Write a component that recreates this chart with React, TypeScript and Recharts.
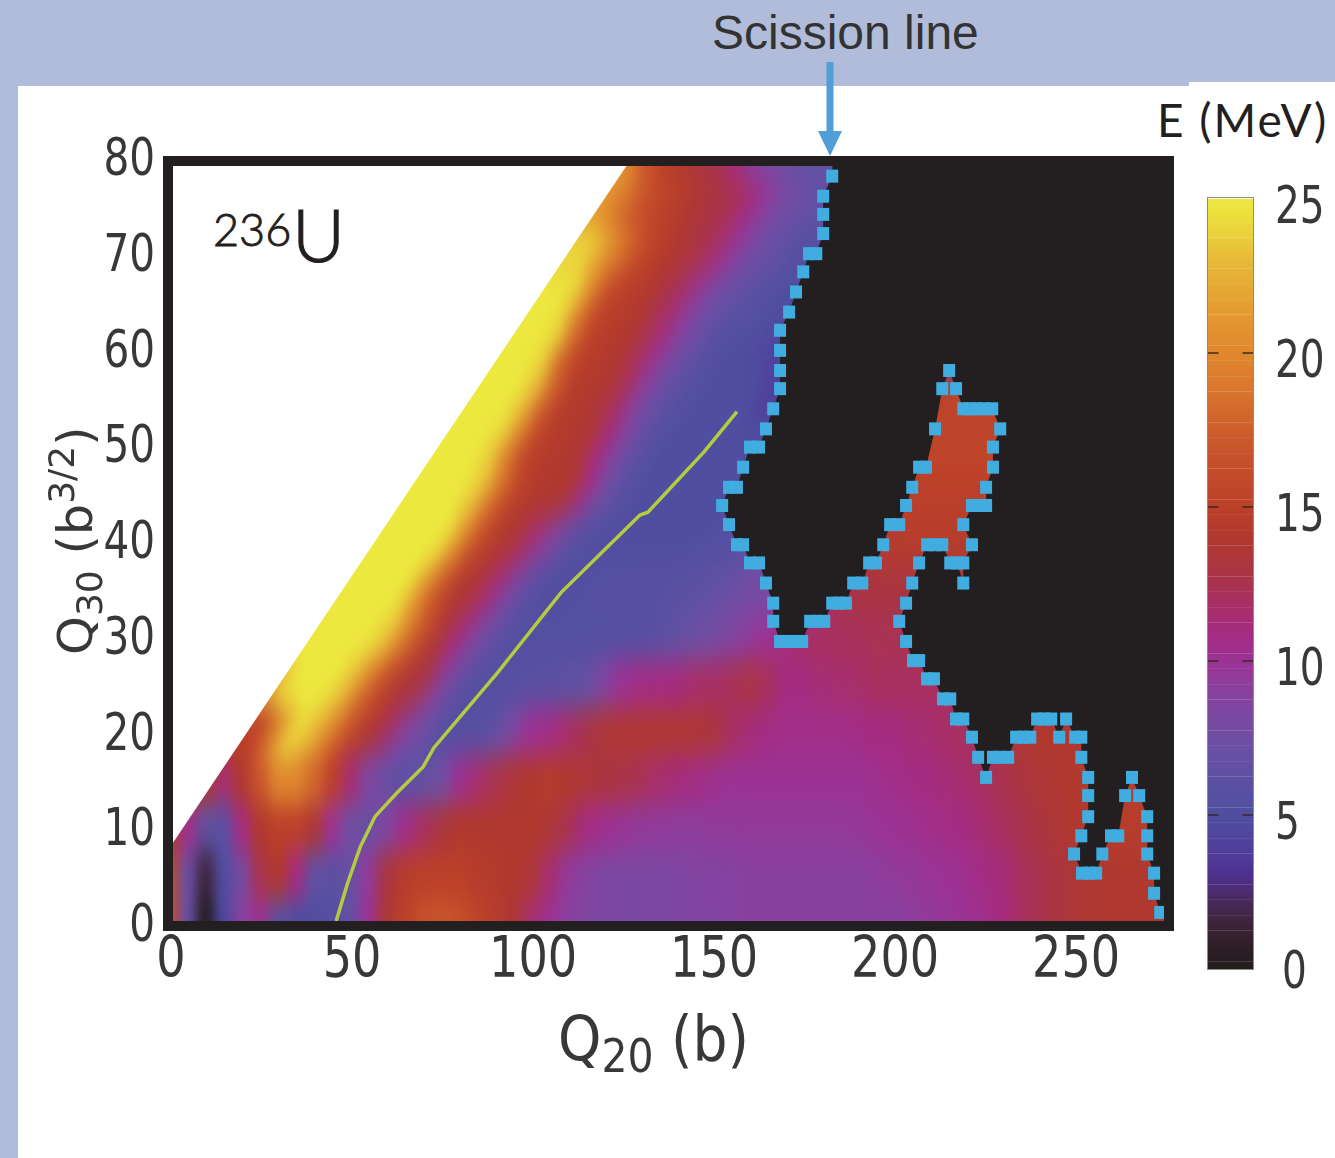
import { ScatterChart, Scatter, XAxis, YAxis } from "recharts";

// Q20 (b) columns of the energy table, one value per 5 b
const q20Levels = [
  0, 5, 10, 15, 20, 25, 30, 35, 40, 45, 50, 55, 60, 65, 70, 75, 80, 85, 90, 95,
  100, 105, 110, 115, 120, 125, 130, 135, 140, 145, 150, 155, 160, 165, 170, 175, 180, 185, 190, 195,
  200, 205, 210, 215, 220, 225, 230, 235, 240, 245, 250, 255, 260, 265, 270, 275,
];

// energy (MeV), row by row
const e0 = [16, 7, 0, 4.5, 9, 10, 6, 5, 5, 5.5, 6.5, 10, 13.5, 15, 16.5, 17, 16.5, 15.5, 14.5, 13.5,
  11.5, 10, 9, 8.5, 8.3, 8.2, 8.2, 8.3, 8.4, 8.5, 8.6, 8.8, 9, 9, 9, 9, 9, 9, 9, 9,
  9, 9.2, 9.5, 9.7, 10, 10.5, 11, 12, 12.5, 13, 13.5, 13.8, 14, 14, 14, 14];
const e5 = [16, 7, 1.5, 5, 8, 12.5, 14, 11, 6.5, 6, 7, 9.5, 13, 14.5, 15, 15, 15, 14.5, 14.3, 14,
  13.5, 11.5, 9.5, 8.8, 8.3, 8.2, 8.2, 8.3, 8.4, 8.5, 8.7, 8.8, 9, 9, 9, 9, 9, 9, 9, 9.2,
  9.4, 9.6, 9.8, 10, 10.3, 10.8, 11.2, 12, 12.5, 13, 13.5, 13.8, 14, 14, 14, 14];
const e10 = [14, 10.5, 6.5, 6, 11, 14, 15, 15, 13.5, 10, 7.5, 7, 8.5, 10.5, 12, 13, 14, 14, 14, 14,
  14, 13.5, 12.5, 11, 10.3, 9.8, 9.5, 9.4, 9.3, 9.3, 9.4, 9.4, 9.5, 9.5, 9.5, 9.5, 9.5, 9.5, 9.6, 9.8,
  10, 10.2, 10.5, 10.7, 11, 11.5, 12, 12.5, 13, 13.5, 14, 14.3, 14.5, 14.5, 14.5, 14.5];
const e15 = [14, 14, 14, 11.5, 14, 17, 20, 20, 18, 15, 11.5, 8.5, 7, 6, 6.5, 7.5, 10, 11.5, 12.5, 13.5,
  14, 14.5, 14, 13.5, 13, 12.8, 12.3, 11.7, 11.2, 10.8, 10.3, 10, 10, 10, 10, 10, 10, 10, 10, 10.3,
  10.5, 10.8, 11, 11.3, 11.6, 12, 12.5, 13, 13.5, 13.8, 14, 14.3, 14.5, 14.5, 14.5, 14.5];
const e20 = [16, 16, 16, 15, 15, 15, 20, 24.5, 23, 19.5, 16, 14, 12, 9, 7.5, 5.7, 5.5, 5.7, 6.3, 8,
  10, 10.7, 11.7, 12.6, 13.5, 13.6, 13.7, 13.7, 13.7, 13.6, 13.2, 12, 11.3, 10.8, 10.5, 10.5, 10.5, 10.5, 10.7, 11,
  11, 11.3, 11.5, 11.8, 12, 12.5, 13, 13.5, 14, 14, 14, 14, 14, 14, 14, 14];
const e25 = [18, 18, 18, 18, 18, 18, 23, 25, 25, 25, 23, 18.5, 15.5, 13.5, 12.7, 9, 6.5, 5.5, 5.5, 5.6,
  5.8, 6, 6.3, 6.7, 8.5, 10, 10.7, 10.9, 11, 11.7, 11.8, 12.2, 12.8, 12.2, 11, 11, 11.3, 11.5, 11.7, 12,
  12, 12, 12, 12, 12, 12, 12, 12, 12, 12, 12, 12, 12, 12, 12, 12];
const e30 = [25, 25, 25, 25, 25, 25, 25, 25, 25, 25, 25, 25, 23.5, 19.5, 16, 13.5, 11, 8.5, 6.5, 5.5,
  5.3, 5.3, 5.3, 5.3, 5.4, 5.5, 5.5, 6, 6.5, 7.2, 7.7, 8.5, 9.2, 10, 10.5, 11.5, 12, 12, 12.2, 12.3,
  12.5, 12.5, 12.5, 12.5, 12.5, 12.5, 12.5, 12.5, 12.5, 12.5, 12.5, 12.5, 12.5, 12.5, 12.5, 12.5];
const e35 = [25, 25, 25, 25, 25, 25, 25, 25, 25, 25, 25, 25, 25, 25, 21, 17, 14, 13.3, 11, 8.3,
  6, 5.2, 5.2, 5.3, 5.4, 5.5, 5.6, 5.7, 5.8, 6, 6.5, 7, 7.7, 8, 8, 9, 10, 12, 13, 13,
  13, 13, 13, 13, 13, 13, 13, 13, 13, 13, 13, 13, 13, 13, 13, 13];
const e40 = [25, 25, 25, 25, 25, 25, 25, 25, 25, 25, 25, 25, 25, 25, 25, 25, 21, 16.5, 14.4, 13.5,
  11.5, 9, 6.5, 5.4, 5.2, 5.2, 5.2, 5.2, 5.2, 5.2, 5.3, 5.5, 6, 6.5, 7, 8, 9, 10.5, 12, 13.5,
  14.5, 14.5, 14.5, 14.5, 14.5, 14.5, 14.5, 14.5, 14.5, 14.5, 14.5, 14.5, 14.5, 14.5, 14.5, 14.5];
const e45 = [25, 25, 25, 25, 25, 25, 25, 25, 25, 25, 25, 25, 25, 25, 25, 25, 25, 23.5, 19, 15.5,
  14.3, 14, 13.7, 10.5, 7.5, 5.8, 5.2, 5, 5, 5, 5, 5, 5, 5, 6, 7, 8, 9, 10, 12,
  14, 15, 15, 15, 15, 15, 15, 15, 15, 15, 15, 15, 15, 15, 15, 15];
const e50 = [25, 25, 25, 25, 25, 25, 25, 25, 25, 25, 25, 25, 25, 25, 25, 25, 25, 25, 24, 19.5,
  15.5, 14.5, 14.1, 13.5, 11, 8.5, 6.3, 5.3, 5, 5, 5, 5, 5, 4.5, 5, 6, 7, 8, 9, 11,
  13, 14, 15.5, 15.5, 15.5, 15.5, 15.5, 15.5, 15.5, 15.5, 15.5, 15.5, 15.5, 15.5, 15.5, 15.5];
const e55 = [25, 25, 25, 25, 25, 25, 25, 25, 25, 25, 25, 25, 25, 25, 25, 25, 25, 25, 25, 25,
  23, 17.5, 14.5, 14.2, 13.5, 12, 9, 7, 5.8, 5.3, 5, 5, 5, 4, 4, 4, 4, 4.5, 4.5, 6,
  9, 12, 14, 15.5, 15.5, 15.5, 15.5, 15.5, 15.5, 15.5, 15.5, 15.5, 15.5, 15.5, 15.5, 15.5];
const e60 = [25, 25, 25, 25, 25, 25, 25, 25, 25, 25, 25, 25, 25, 25, 25, 25, 25, 25, 25, 25,
  25, 24, 18, 15, 14.4, 14, 12.5, 10.5, 8.3, 6.8, 5.5, 5.2, 5, 4.5, 4, 4, 4, 4, 4, 4,
  4, 4, 4, 4, 4, 4, 4, 4, 4, 4, 4, 4, 4, 4, 4, 4];
const e65 = [25, 25, 25, 25, 25, 25, 25, 25, 25, 25, 25, 25, 25, 25, 25, 25, 25, 25, 25, 25,
  25, 25, 24.5, 20, 15.7, 14.8, 14.3, 13, 11.7, 9.5, 7.5, 6.6, 6, 5.4, 5, 5, 5, 5, 5, 5,
  5, 5, 5, 5, 5, 5, 5, 5, 5, 5, 5, 5, 5, 5, 5, 5];
const e70 = [24, 24, 24, 24, 24, 24, 24, 24, 24, 24, 24, 24, 24, 24, 24, 24, 24, 24, 24, 24,
  24, 24, 24, 24, 21.5, 18.5, 16, 14.8, 13.8, 12.9, 11.7, 9.7, 8, 7, 6.2, 5.5, 5.5, 5.5, 5.5, 5.5,
  5.5, 5.5, 5.5, 5.5, 5.5, 5.5, 5.5, 5.5, 5.5, 5.5, 5.5, 5.5, 5.5, 5.5, 5.5, 5.5];
const e75 = [22, 22, 22, 22, 22, 22, 22, 22, 22, 22, 22, 22, 22, 22, 22, 22, 22, 22, 22, 22,
  22, 22, 22, 22, 21, 18.8, 16.8, 15.5, 14.7, 13.7, 12.9, 12.6, 11, 9.2, 7.8, 7, 6.5, 6.5, 6.5, 6.5,
  6.5, 6.5, 6.5, 6.5, 6.5, 6.5, 6.5, 6.5, 6.5, 6.5, 6.5, 6.5, 6.5, 6.5, 6.5, 6.5];
const e80 = [22, 22, 22, 22, 22, 22, 22, 22, 22, 22, 22, 22, 22, 22, 22, 22, 22, 22, 22, 22,
  22, 22, 22, 22, 22, 22, 20, 17, 15, 14.2, 13, 12.5, 11, 9, 8, 7, 6.5, 6.5, 6.5, 6.5,
  6.5, 6.5, 6.5, 6.5, 6.5, 6.5, 6.5, 6.5, 6.5, 6.5, 6.5, 6.5, 6.5, 6.5, 6.5, 6.5];

const q30Levels = [0, 5, 10, 15, 20, 25, 30, 35, 40, 45, 50, 55, 60, 65, 70, 75, 80];
const energyRows = [e0, e5, e10, e15, e20, e25, e30, e35, e40, e45, e50, e55, e60, e65, e70, e75, e80];

// [Q20, Q30] of the blue scission squares, in order along the line
const scissionPoints = [
  [182.9, 77.9], [180.4, 75.8], [180.4, 73.9], [180.4, 71.9], [178.5, 69.8], [176.5, 69.8], [174.9, 67.9], [172.9, 65.8],
  [171, 63.7], [168.5, 61.8], [168.5, 59.7], [168.5, 57.6], [168.5, 55.7], [166.6, 53.6], [164.6, 51.5], [162.7, 49.6],
  [160.2, 49.6], [158.3, 47.5], [156.6, 45.4], [154.4, 45.4], [152.5, 43.5], [154.4, 41.5], [156.6, 39.4], [158.3, 39.4],
  [160.2, 37.5], [162.7, 37.5], [164.6, 35.4], [166.6, 33.3], [166.6, 31.4], [168.5, 29.3], [170.4, 29.3], [172.4, 29.3],
  [174.6, 29.3], [176.8, 31.4], [178.7, 31.4], [180.7, 31.4], [182.9, 33.3], [184.8, 33.3], [186.7, 33.3], [188.7, 35.4],
  [191.2, 35.4], [193.1, 37.5], [195, 37.5], [197, 39.4], [198.9, 41.5], [201.4, 41.5], [203.3, 43.5], [205, 45.4],
  [206.9, 47.5], [208.8, 47.5], [211.3, 51.5], [213.3, 55.7], [215.2, 57.6], [217.1, 55.7], [219.1, 53.6], [221, 53.6],
  [222.9, 53.6], [224.9, 53.6], [227.1, 53.6], [229.3, 51.5], [227.3, 49.6], [227.3, 47.5], [225.4, 45.4], [225.4, 43.5],
  [223.5, 43.5], [221.5, 43.5], [219.1, 41.5], [221.5, 39.4], [219.1, 37.5], [219.1, 35.4], [217.4, 37.5], [215.5, 37.5],
  [213.3, 39.4], [211.3, 39.4], [209.1, 39.4], [206.9, 37.5], [205, 35.4], [203.3, 33.3], [201.4, 31.4], [203.3, 29.3],
  [205.2, 27.3], [206.9, 27.3], [209.1, 25.4], [211, 25.4], [213.5, 23.3], [215.5, 23.3], [217.1, 21.2], [219.1, 21.2],
  [221.5, 19.3], [223.2, 17.2], [225.4, 15.1], [227.3, 17.2], [229.3, 17.2], [231.5, 17.2], [233.7, 19.3], [235.6, 19.3],
  [237.6, 19.3], [239.5, 21.2], [241.4, 21.2], [243.4, 21.2], [245.6, 19.3], [247.5, 21.2], [250, 19.3], [251.7, 19.3],
  [251.7, 17.2], [253.6, 15.1], [253.6, 13.2], [253.6, 11], [251.7, 9], [249.7, 7.1], [251.9, 5.1], [253.9, 5.1],
  [255.8, 5.1], [257.5, 7.1], [259.9, 9], [261.9, 9], [263.8, 13.2], [265.7, 15.1], [267.7, 13.2], [269.9, 11],
  [269.9, 9], [269.9, 7.1], [271.8, 5.1], [271.8, 3], [273.5, 1],
];

// closes the scission line round the black no-data corner
const blackCorner = [[275, 0], [277.3, 0], [277.3, 80], [183, 80]];
// the area left of the diagonal that has no data
const whiteCorner = [[0, 7.8], [127.9, 80], [0, 80]];

const pathQ20 = [45.9, 49, 52.5, 56.6, 62.7, 69.9, 72.9, 90.6, 108, 129.8, 132, 147.5, 156.6];
const pathQ30 = [0.1, 4, 7.8, 11, 13.5, 16.2, 18.2, 26.1, 34.4, 42.5, 42.8, 49.1, 53.3];

const xTicks = [0, 50, 100, 150, 200, 250];
const yTicks = [0, 10, 20, 30, 40, 50, 60, 70, 80];
const barTicks = [0, 5, 10, 15, 20, 25];
const barMarks = [5, 10, 15, 20];
const barLevels = [
  0, 0.5, 1, 1.5, 2, 2.5, 3, 3.5, 4, 4.5, 5, 5.5, 6, 6.5, 7, 7.5, 8, 8.5, 9, 9.5, 10, 10.5, 11, 11.5, 12, 12.5,
  13, 13.5, 14, 14.5, 15, 15.5, 16, 16.5, 17, 17.5, 18, 18.5, 19, 19.5, 20, 20.5, 21, 21.5, 22, 22.5, 23, 23.5, 24, 24.5, 25,
];

// colour map sampled from the colour bar
const colorStops: [number, string][] = [
  [0, "#231c1f"], [1, "#33202a"], [2, "#47284f"], [3, "#4f2f90"], [4, "#50409c"], [5, "#4f4ea0"], [6, "#5b50a3"],
  [7.5, "#6f4fa3"], [9, "#88409f"], [10, "#9c3294"], [11, "#a52b80"], [12, "#a83060"], [13, "#aa3540"], [14, "#b0382e"],
  [15, "#bc4029"], [17, "#c9552b"], [19, "#db7a2e"], [21, "#e3942f"], [23, "#e8b838"], [24, "#ebd53b"], [25, "#ece83f"],
];

function hexToRgb(hex: string) {
  return [1, 3, 5].map((i) => parseInt(hex.slice(i, i + 2), 16));
}

function energyColor(value: number) {
  const e = Math.max(0, value);
  for (let i = 1; i < colorStops.length; i++) {
    const [e0, c0] = colorStops[i - 1];
    const [e1, c1] = colorStops[i];
    if (e <= e1) {
      const t = (e - e0) / (e1 - e0);
      const a = hexToRgb(c0);
      const b = hexToRgb(c1);
      return `rgb(${a.map((v, k) => Math.round(v + (b[k] - v) * t)).join(",")})`;
    }
  }
  return colorStops[colorStops.length - 1][1];
}

const heatCells = q30Levels.flatMap((q30, r) => q20Levels.map((q20, c) => ({ q20, q30, e: energyRows[r][c] })));
const toPoints = (list: number[][]) => list.map(([q20, q30]) => ({ q20, q30 }));
const scissionData = toPoints(scissionPoints);
const blackData = toPoints([...scissionPoints, ...blackCorner]);
const whiteData = toPoints(whiteCorner);
const pathData = pathQ20.map((q20, i) => ({ q20, q30: pathQ30[i] }));
const barData = barLevels.map((e) => ({ x: 0.5, e }));
const barMarkData = barMarks.map((e) => ({ x: 0.5, e }));

const W = 1335;
const H = 1158;
const X_MAX = 277.3;
const INK = "#231f20";
const LABEL = "#383838";
const BAND = "#b0bcd9";
const SQUARE = "#41acdf";
const DIGITS = "'DejaVu Sans'";
const SOFT = { filter: "blur(0.5px)" };

// cells lean along the diagonal valley so the rows do not show as steps
function HeatCell({ cx, cy, payload }: any) {
  const { q20, q30, e } = payload;
  const lean = q30 >= 30 || (q30 >= 20 && q20 <= 100) ? 16 : 0;
  // where leaning and upright rows meet, a plain cell closes the gap
  const seam = q30 >= 20 && q30 < 30 && q20 >= 95 && q20 <= 110;
  let left = cx - 10;
  let right = cx + 10;
  let top = cy - 25;
  let bottom = cy + 25;
  if (q20 === 0) left -= 100;
  if (q20 === 275) right += 100;
  if (q30 === 0) bottom += 100;
  if (q30 === 80) top -= 100;
  const fill = energyColor(e);
  const pts = [
    [left + lean, top],
    [right + lean, top],
    [right - lean, bottom],
    [left - lean, bottom],
  ];
  return (
    <g>
      {seam && <rect x={left} y={top} width={right - left} height={bottom - top} fill={fill} />}
      <polygon points={pts.map((p) => p.join(",")).join(" ")} fill={fill} />
    </g>
  );
}

function SquareMark({ cx, cy }: any) {
  return <rect x={cx - 6} y={cy - 6.5} width={12} height={13} fill={SQUARE} />;
}

function BarCell({ cx, cy, payload }: any) {
  const id = `bar-${String(payload.e).replace(".", "-")}`;
  const top = payload.e === 25 ? cy : cy - 7.7;
  const bottom = payload.e === 0 ? cy : cy + 7.9;
  return (
    <g>
      <defs>
        <linearGradient id={id} x1="0" y1="0" x2="0" y2="1">
          <stop offset="0" stopColor={energyColor(payload.e + 0.25)} />
          <stop offset="1" stopColor={energyColor(payload.e - 0.25)} />
        </linearGradient>
      </defs>
      <rect x={cx - 22.5} y={top} width={45} height={bottom - top} fill={`url(#${id})`} />
    </g>
  );
}

function BarMark({ cx, cy }: any) {
  return (
    <g stroke="#3a2a20" strokeWidth={1.5}>
      <line x1={cx - 22.5} x2={cx - 12} y1={cy} y2={cy} />
      <line x1={cx + 12} x2={cx + 22.5} y1={cy} y2={cy} />
    </g>
  );
}

const NoMark = () => <g />;

const filledShape = (fill: string) => (props: any) => {
  const d = props.points.map((p: any, i: number) => `${i ? "L" : "M"}${p.x},${p.y}`).join("") + "Z";
  return <path d={d} fill={fill} stroke="none" />;
};

function LeftTick({ y, payload }: any) {
  return (
    <text transform={`translate(155,${y + 19}) scale(0.78,1)`} textAnchor="end" fontFamily={DIGITS} fontSize={52} fill={LABEL} style={SOFT}>
      {payload.value}
    </text>
  );
}

function BottomTick({ x, payload }: any) {
  return (
    <text transform={`translate(${x + 1},977) scale(0.81,1)`} textAnchor="middle" fontFamily={DIGITS} fontSize={57} fill={LABEL} style={SOFT}>
      {payload.value}
    </text>
  );
}

function BarTick({ y, payload }: any) {
  const zero = payload.value === 0;
  return (
    <text
      transform={`translate(${zero ? 1282 - 1200 : 1275 - 1200},${y + (zero ? 19 : 24)}) scale(0.75,1)`}
      fontFamily={DIGITS}
      fontSize={52}
      fill={LABEL}
      style={SOFT}
    >
      {payload.value}
    </text>
  );
}

export default function App() {
  return (
    <div style={{ position: "absolute", left: 0, top: 0, width: W, height: H, background: BAND, overflow: "hidden" }}>
      <div style={{ position: "absolute", left: 18, top: 86, width: W - 18, height: H - 86, background: "#fff" }} />
      <div style={{ position: "absolute", left: 1189, top: 82, width: W - 1189, height: 6, background: "#fff" }} />

      <svg width={0} height={0} style={{ position: "absolute" }}>
        <filter id="heatBlur" x="0" y="0" width="100%" height="100%" colorInterpolationFilters="sRGB">
          <feGaussianBlur stdDeviation="6 14" />
        </filter>
      </svg>

      {/* energy surface, blurred and cut to the inside of the frame */}
      <div style={{ position: "absolute", left: 173, top: 166, width: 1001, height: 755, overflow: "hidden" }}>
        <div style={{ position: "absolute", left: -173, top: -166, filter: "url(#heatBlur)" }}>
          <ScatterChart width={W} height={H} margin={{ left: 170, right: 161, top: 156, bottom: 236 }}>
            <XAxis type="number" dataKey="q20" domain={[0, X_MAX]} hide />
            <YAxis type="number" dataKey="q30" domain={[0, 80]} hide />
            <Scatter data={heatCells} shape={<HeatCell />} isAnimationActive={false} />
          </ScatterChart>
        </div>
      </div>

      <div style={{ position: "absolute", left: 0, top: 0 }}>
        <ScatterChart width={W} height={H} margin={{ left: 70, right: 161, top: 156, bottom: 146 }}>
          <XAxis
            type="number"
            dataKey="q20"
            domain={[0, X_MAX]}
            ticks={xTicks}
            tick={<BottomTick />}
            tickLine={false}
            axisLine={false}
            height={90}
            interval={0}
          />
          <YAxis
            type="number"
            dataKey="q30"
            domain={[0, 80]}
            ticks={yTicks}
            tick={<LeftTick />}
            tickLine={false}
            axisLine={false}
            width={100}
            interval={0}
          />
          <Scatter data={whiteData} shape={<NoMark />} line={filledShape("#fff")} isAnimationActive={false} />
          <Scatter data={blackData} shape={<NoMark />} line={filledShape(INK)} isAnimationActive={false} />
          <Scatter
            data={pathData}
            shape={<NoMark />}
            line={{ stroke: "#b4cc40", strokeWidth: 3.5 }}
            lineJointType="linear"
            isAnimationActive={false}
          />
          <Scatter data={scissionData} shape={<SquareMark />} isAnimationActive={false} />
        </ScatterChart>
      </div>

      <div style={{ position: "absolute", left: 163, top: 156, width: 991, height: 755, border: `10px solid ${INK}` }} />

      {/* colour bar */}
      <div style={{ position: "absolute", left: 1200, top: 150 }}>
        <ScatterChart width={135} height={870} margin={{ left: 8, right: 0, top: 49, bottom: 51 }}>
          <XAxis type="number" dataKey="x" domain={[0, 1]} hide />
          <YAxis
            type="number"
            dataKey="e"
            orientation="right"
            domain={[0, 25]}
            ticks={barTicks}
            tick={<BarTick />}
            tickLine={false}
            axisLine={false}
            width={82}
            interval={0}
          />
          <Scatter data={barData} shape={<BarCell />} isAnimationActive={false} />
          <Scatter data={barMarkData} shape={<BarMark />} isAnimationActive={false} />
        </ScatterChart>
      </div>
      <div style={{ position: "absolute", left: 1207, top: 197, width: 45, height: 771, border: "1.5px solid #8f8f78" }} />

      {/* labels and annotation */}
      <svg width={W} height={H} style={{ position: "absolute", left: 0, top: 0, pointerEvents: "none" }}>
        <text x={712} y={49} fontFamily="'Liberation Sans'" fontSize={48} fill="#333">Scission line</text>
        <line x1={830} x2={830} y1={62} y2={134} stroke="#4f9ed8" strokeWidth={7} />
        <polygon points="818,131 842,131 830,156" fill="#4f9ed8" />
        <text x={1157} y={137} fontFamily="Lato" fontSize={46} letterSpacing={2} fill={INK}>E (MeV)</text>
        <text x={213} y={246} fontFamily="Lato" fontWeight={300} fontSize={45} stroke={INK} strokeWidth={0.9} fill={INK}>236</text>
        <text x={292} y={262} fontFamily="Lato" fontWeight={300} fontSize={73} stroke={INK} strokeWidth={1.2} fill={INK}>U</text>
        <g style={SOFT} fill={LABEL} fontFamily={DIGITS}>
          <text transform="translate(558,1060) scale(0.89,1)" fontSize={62}>
            Q<tspan fontSize={46} dy={12}>20</tspan>
            <tspan dy={-12}> (b)</tspan>
          </text>
          <text transform="translate(92,655) rotate(-90) scale(1.03,1)" fontSize={48}>
            Q<tspan fontSize={35} dy={10}>30</tspan>
            <tspan dy={-10}> (b</tspan>
            <tspan fontSize={35} dy={-18}>3/2</tspan>
            <tspan dy={18}>)</tspan>
          </text>
        </g>
      </svg>
    </div>
  );
}
